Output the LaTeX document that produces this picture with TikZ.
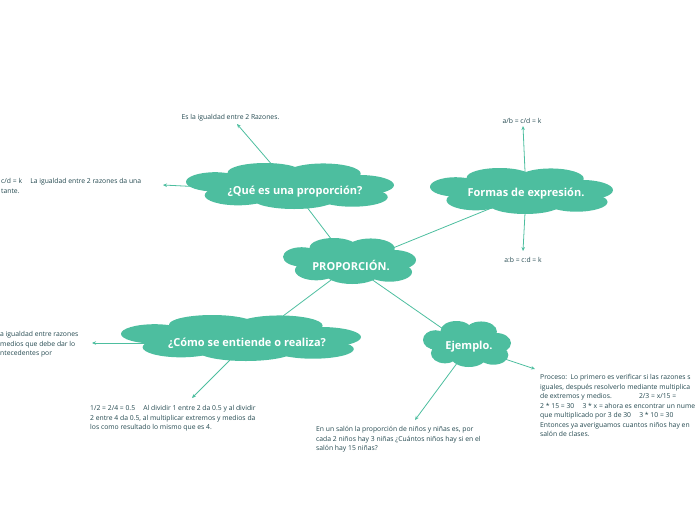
\documentclass[tikz,border=0pt]{standalone}
\usepackage{fontspec}
\setmainfont{Open Sans}
\usetikzlibrary{arrows.meta}
\definecolor{tealc}{HTML}{4DBE9F}
\definecolor{txtc}{HTML}{23484F}
\pgfdeclarelayer{lines}
\pgfdeclarelayer{clouds}
\pgfsetlayers{lines,clouds,main}
\newcommand\mycloud[4]{%
  \pgfmathsetmacro\cW{#2-#1}%
  \pgfmathsetmacro\cH{#4-#3}%
  \fill[tealc] ({#1+0.14*\cW},{#3+0.41*\cH}) ellipse [x radius={0.14*\cW*1pt}, y radius={0.21*\cH*1pt}];
  \fill[tealc] ({#1+0.38*\cW},{#3+0.21*\cH}) ellipse [x radius={0.18*\cW*1pt}, y radius={0.21*\cH*1pt}];
  \fill[tealc] ({#1+0.66*\cW},{#3+0.23*\cH}) ellipse [x radius={0.18*\cW*1pt}, y radius={0.22*\cH*1pt}];
  \fill[tealc] ({#1+0.83*\cW},{#3+0.48*\cH}) ellipse [x radius={0.17*\cW*1pt}, y radius={0.22*\cH*1pt}];
  \fill[tealc] ({#1+0.25*\cW},{#3+0.70*\cH}) ellipse [x radius={0.16*\cW*1pt}, y radius={0.22*\cH*1pt}];
  \fill[tealc] ({#1+0.52*\cW},{#3+0.78*\cH}) ellipse [x radius={0.20*\cW*1pt}, y radius={0.22*\cH*1pt}];
  \fill[tealc] ({#1+0.80*\cW},{#3+0.74*\cH}) ellipse [x radius={0.17*\cW*1pt}, y radius={0.21*\cH*1pt}];
  \fill[tealc] ({#1+0.50*\cW},{#3+0.50*\cH}) ellipse [x radius={0.42*\cW*1pt}, y radius={0.32*\cH*1pt}];
}
\tikzset{
  ctext/.style={text=white, font=\fontsize{11}{13}\selectfont\bfseries, inner sep=0pt},
  small/.style={text=txtc, font=\fontsize{6.8}{9.5}\selectfont, align=left, inner sep=0pt, anchor=north west},
  smallc/.style={text=txtc, font=\fontsize{6.8}{9.5}\selectfont, inner sep=0pt},
  conn/.style={draw=tealc, line width=0.8pt},
  arr/.style={conn, -{Stealth[length=4pt,width=3.5pt]}}
}
\begin{document}
\begin{tikzpicture}[x=1pt,y=-1pt]
\useasboundingbox (0,0) rectangle (696,520);
% cloud text nodes
\node[ctext] (root) at (351,265) {PROPORCIÓN.};
\node[ctext] (que) at (295,191.5) {¿Qué es una proporción?};
\node[ctext] (formas) at (526,194) {Formas de expresión.};
\node[ctext] (como) at (247,343) {¿Cómo se entiende o realiza?};
\node[ctext] (ej) at (469,347) {Ejemplo.};
% small texts
\node[smallc] (t1) at (230.5,117.5) {Es la igualdad entre 2 Razones.};
\node[small] (t2) at (1,178.5) {c/d = k\hspace{1.2em}La igualdad entre 2 razones da una\\tante.};
\node[smallc] (t3) at (522,120.5) {a/b = c/d = k};
\node[smallc] (t4) at (523,259.5) {a:b = c:d = k};
\node[small] (t5) at (0,331.5) {a igualdad entre razones\\medios que debe dar lo\\ntecedentes por};
\node[small] (t6) at (90,405.5) {1/2 = 2/4 = 0.5\hspace{1.2em}Al dividir 1 entre 2 da 0.5 y al dividir\\2 entre 4 da 0.5, al multiplicar extremos y medios da\\los como resultado lo mismo que es 4.};
\node[small] (t7) at (316,426.5) {En un salón la proporción de niños y niñas es, por\\cada 2 niños hay 3 niñas ¿Cuántos niños hay si en el\\salón hay 15 niñas?};
\node[small] (t8) at (540,374.5) {Proceso:\hspace{0.5em}Lo primero es verificar si las razones s\\iguales, después resolverlo mediante multiplica\\de extremos y medios.\hspace{4em}2/3 = x/15 =\\2 * 15 = 30\hspace{1.2em}3 * x = ahora es encontrar un nume\\que multiplicado por 3 de 30\hspace{1.2em}3 * 10 = 30\\Entonces ya averiguamos cuantos niños hay en\\salón de clases.};
% arrow end points
\coordinate (e1) at (237,124);
\coordinate (e2) at (163,185);
\coordinate (e3) at (523,126);
\coordinate (e4) at (523,251);
\coordinate (e5) at (92,343);
\coordinate (e6) at (192,398);
\coordinate (e7) at (415,420);
\coordinate (e8) at (535,369);
\begin{pgfonlayer}{clouds}
  \mycloud{186}{394}{163}{209}
  \mycloud{283}{416}{238}{284}
  \mycloud{430}{613}{168}{214}
  \mycloud{121}{361}{315}{361}
  \mycloud{423}{511}{321}{367}
\end{pgfonlayer}
\begin{pgfonlayer}{lines}
  \draw[conn] (root.center) -- (que.center);
  \draw[conn] (root.center) -- (formas.center);
  \draw[conn] (root.center) -- (como.center);
  \draw[conn] (root.center) -- (ej.center);
  \draw[arr] (que.center) -- (e1);
  \draw[arr] (que.center) -- (e2);
  \draw[arr] (formas.center) -- (e3);
  \draw[arr] (formas.center) -- (e4);
  \draw[arr] (como.center) -- (e5);
  \draw[arr] (como.center) -- (e6);
  \draw[arr] (ej.center) -- (e7);
  \draw[arr] (ej.center) -- (e8);
\end{pgfonlayer}
\end{tikzpicture}
\end{document}
